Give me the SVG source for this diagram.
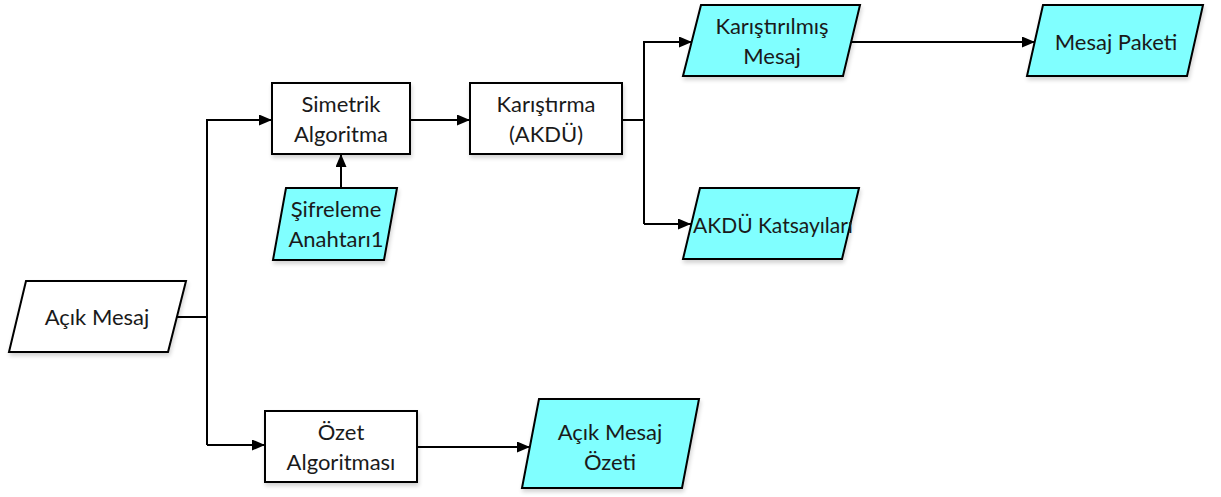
<svg xmlns="http://www.w3.org/2000/svg" width="1221" height="497" viewBox="0 0 1221 497">
  <defs>
    <marker id="arrow" viewBox="0 0 13 11" refX="13" refY="5.5" markerWidth="13" markerHeight="11" markerUnits="userSpaceOnUse" orient="auto">
      <path d="M0,0 L13,5.5 L0,11 Z" fill="#000"/>
    </marker>
    <filter id="shadow" x="-10%" y="-10%" width="130%" height="140%">
      <feGaussianBlur in="SourceAlpha" stdDeviation="2"/>
      <feOffset dx="1" dy="3" result="b"/>
      <feComponentTransfer><feFuncA type="linear" slope="0.18"/></feComponentTransfer>
      <feMerge><feMergeNode/><feMergeNode in="SourceGraphic"/></feMerge>
    </filter>
  </defs>
  <style>
    .proc { fill: #ffffff; stroke: #000; stroke-width: 2; filter: url(#shadow); }
    .data { fill: #80ffff; stroke: #000; stroke-width: 2; filter: url(#shadow); }
    .input { fill: #ffffff; stroke: #000; stroke-width: 2; filter: url(#shadow); }
    .lbl { font-family: Lato, "Liberation Sans", sans-serif; font-size: 22px; fill: #1a1a1a; text-anchor: middle; }
    .wire { fill: none; stroke: #000; stroke-width: 2; }
    .arr { marker-end: url(#arrow); }
  </style>

  <g id="connectors">
    <path class="wire" d="M177,317 H207"/>
    <path class="wire arr" d="M207,445 V120 H272"/>
    <path class="wire arr" d="M207,445 H265"/>
    <path class="wire arr" d="M410,120 H470"/>
    <path class="wire arr" d="M341,188 V154"/>
    <path class="wire" d="M622,120 H644"/>
    <path class="wire arr" d="M644,224 V42 H692"/>
    <path class="wire arr" d="M644,224 H691"/>
    <path class="wire arr" d="M852,42 H1035"/>
    <path class="wire arr" d="M417,447 H530"/>
  </g>

  <g id="acik-mesaj">
    <polygon class="input" points="26,281 186,281 168,352 9,352"/>
    <text class="lbl" x="97" y="325">Açık Mesaj</text>
  </g>

  <g id="simetrik-algoritma">
    <rect class="proc" x="272" y="83" width="138" height="71"/>
    <text class="lbl" x="341" y="112">Simetrik</text>
    <text class="lbl" x="341" y="142">Algoritma</text>
  </g>

  <g id="sifreleme-anahtari">
    <polygon class="data" points="286,188 397,188 384,260 273,260"/>
    <text class="lbl" x="336" y="217">Şifreleme</text>
    <text class="lbl" x="336" y="247">Anahtarı1</text>
  </g>

  <g id="karistirma">
    <rect class="proc" x="470" y="83" width="152" height="71"/>
    <text class="lbl" x="546" y="112">Karıştırma</text>
    <text class="lbl" x="546" y="142">(AKDÜ)</text>
  </g>

  <g id="karistirilmis-mesaj">
    <polygon class="data" points="701,5 860,5 843,76 683,76"/>
    <text class="lbl" x="772" y="34">Karıştırılmış</text>
    <text class="lbl" x="772" y="64">Mesaj</text>
  </g>

  <g id="mesaj-paketi">
    <polygon class="data" points="1043,5 1203,5 1187,76 1027,76"/>
    <text class="lbl" x="1116" y="50">Mesaj Paketi</text>
  </g>

  <g id="akdu-katsayilari">
    <polygon class="data" points="700,188 859,188 842,259 683,259"/>
    <text class="lbl" x="773" y="233" style="font-size:21px">AKDÜ Katsayıları</text>
  </g>

  <g id="ozet-algoritmasi">
    <rect class="proc" x="265" y="411" width="152" height="71"/>
    <text class="lbl" x="341" y="440">Özet</text>
    <text class="lbl" x="341" y="470">Algoritması</text>
  </g>

  <g id="acik-mesaj-ozeti">
    <polygon class="data" points="539,399 699,399 682,488 522,488"/>
    <text class="lbl" x="610" y="440">Açık Mesaj</text>
    <text class="lbl" x="610" y="470">Özeti</text>
  </g>
</svg>
